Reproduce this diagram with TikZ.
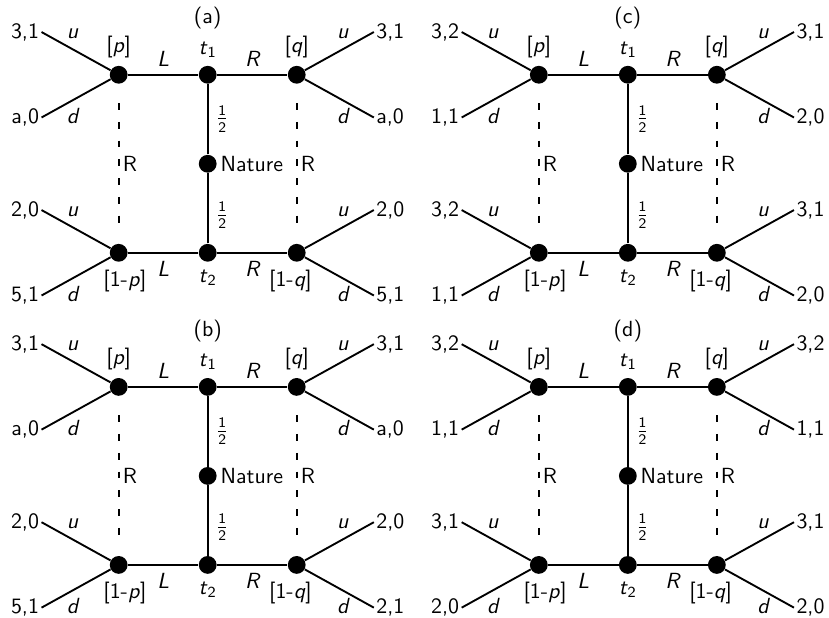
\documentclass[tikz,border=0pt]{standalone}
\usetikzlibrary{positioning}

\tikzset{
  dot/.style={circle, fill, inner sep=0pt, minimum size=3mm},
  payoff/.style={inner sep=1pt},
  branch/.style={font=\itshape, text height=1.5ex, text depth=0.25ex, inner sep=3.5pt},
  move/.style={font=\itshape},
  tag/.style={},
  edge/.style={line width=0.9pt},
  info/.style={line width=0.9pt, dash pattern=on 3.3pt off 5.7pt, shorten <=3.2mm, shorten >=3.2mm},
}

% #1 panel tag, #2--#9 payoffs (top left u/d, top right u/d, bottom left u/d, bottom right u/d)
\newcommand{\gamepanel}[9]{%
  \node[tag] (#1-tag) at (0,0.95) {(#1)};
  \node[dot, label=above:{[\textit{p}]}] (#1-p1) at (-1.5,0) {};
  \node[dot, label=above:{\textit{t}\textsubscript{1}}] (#1-t1) at (0,0) {};
  \node[dot, label=above:{[\textit{q}]}] (#1-q1) at (1.5,0) {};
  \node[dot, label={[inner sep=1.5pt]right:Nature}] (#1-n) at (0,-1.5) {};
  \node[dot, label={[xshift=3pt]below:{[1-\textit{p}]}}] (#1-p2) at (-1.5,-3) {};
  \node[dot, label=below:{\textit{t}\textsubscript{2}}] (#1-t2) at (0,-3) {};
  \node[dot, label={[xshift=-3pt]below:{[1-\textit{q}]}}] (#1-q2) at (1.5,-3) {};

  \node[payoff, anchor=east] (#1-a) at (-2.8,0.72) {#2};
  \node[payoff, anchor=east] (#1-b) at (-2.8,-0.72) {#3};
  \node[payoff, anchor=west] (#1-c) at (2.8,0.72) {#4};
  \node[payoff, anchor=west] (#1-d) at (2.8,-0.72) {#5};
  \node[payoff, anchor=east] (#1-e) at (-2.8,-2.28) {#6};
  \node[payoff, anchor=east] (#1-f) at (-2.8,-3.72) {#7};
  \node[payoff, anchor=west] (#1-g) at (2.8,-2.28) {#8};
  \node[payoff, anchor=west] (#1-h) at (2.8,-3.72) {#9};

  \draw[edge] (#1-p1) -- node[move, above] {L} (#1-t1);
  \draw[edge] (#1-t1) -- node[move, above] {R} (#1-q1);
  \draw[edge] (#1-p2) -- node[move, below] {L} (#1-t2);
  \draw[edge] (#1-t2) -- node[move, below] {R} (#1-q2);
  \draw[edge] (#1-t1) -- node[right] {$\frac{\mathsf{1}}{\mathsf{2}}$} (#1-n);
  \draw[edge] (#1-n) -- node[right, pos=0.6] {$\frac{\mathsf{1}}{\mathsf{2}}$} (#1-t2);

  \draw[info] (#1-p1) -- node[right, inner sep=1.5pt] {R} (#1-p2);
  \draw[info] (#1-q1) -- node[right, inner sep=1.5pt] {R} (#1-q2);

  \draw[edge] (#1-p1) -- node[branch, above, pos=0.55] {u} (#1-a.east);
  \draw[edge] (#1-p1) -- node[branch, below, pos=0.55] {d} (#1-b.east);
  \draw[edge] (#1-q1) -- node[branch, above, pos=0.55] {u} (#1-c.west);
  \draw[edge] (#1-q1) -- node[branch, below, pos=0.55] {d} (#1-d.west);
  \draw[edge] (#1-p2) -- node[branch, above, pos=0.55] {u} (#1-e.east);
  \draw[edge] (#1-p2) -- node[branch, below, pos=0.55] {d} (#1-f.east);
  \draw[edge] (#1-q2) -- node[branch, above, pos=0.55] {u} (#1-g.west);
  \draw[edge] (#1-q2) -- node[branch, below, pos=0.55] {d} (#1-h.west);
}

\begin{document}
\sffamily\fontsize{10.5}{12.6}\selectfont
\begin{tikzpicture}
  \useasboundingbox (0,0) rectangle (13.97,-10.40);

  \begin{scope}[shift={(3.5,-1.26)}]
    \gamepanel{a}{3,1}{a,0}{3,1}{a,0}{2,0}{5,1}{2,0}{5,1}
  \end{scope}
  \begin{scope}[shift={(3.5,-6.52)}]
    \gamepanel{b}{3,1}{a,0}{3,1}{a,0}{2,0}{5,1}{2,0}{2,1}
  \end{scope}
  \begin{scope}[shift={(10.58,-1.26)}]
    \gamepanel{c}{3,2}{1,1}{3,1}{2,0}{3,2}{1,1}{3,1}{2,0}
  \end{scope}
  \begin{scope}[shift={(10.58,-6.52)}]
    \gamepanel{d}{3,2}{1,1}{3,2}{1,1}{3,1}{2,0}{3,1}{2,0}
  \end{scope}
\end{tikzpicture}
\end{document}
